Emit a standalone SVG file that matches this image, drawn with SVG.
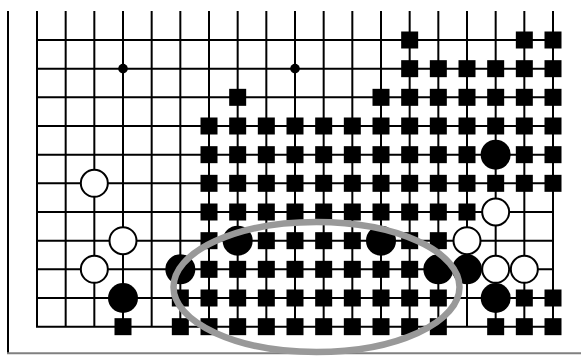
<svg xmlns="http://www.w3.org/2000/svg" xmlns:xlink="http://www.w3.org/1999/xlink" width="581" height="356" viewBox="0 0 581 356">
<style>
.g{stroke:#000;stroke-width:2;fill:none}
.sq{fill:#000}
.w{fill:#fff;stroke:#000;stroke-width:2}
.b{fill:#000}
</style>
<defs>
<rect id="sq" x="-8.5" y="-8.5" width="17" height="17" class="sq"/>
<circle id="ws" r="13.5" class="w"/>
<circle id="bs" r="15" class="b"/>
</defs>
<rect width="581" height="356" fill="#fff"/>
<g id="frame">
<line x1="8" y1="11" x2="8" y2="354" stroke="#000" stroke-width="2"/>
<line x1="7" y1="353.3" x2="581" y2="353.3" stroke="#808080" stroke-width="2"/>
</g>
<g id="grid" class="g">
<path d="M37 11V326.67M65.67 11V326.67M94.33 11V326.67M123 11V326.67M151.67 11V326.67M180.33 11V326.67M209 11V326.67M237.67 11V326.67M266.33 11V326.67M295 11V326.67M323.67 11V326.67M352.33 11V326.67M381 11V326.67M409.67 11V326.67M438.33 11V326.67M467 11V326.67M495.67 11V326.67M524.33 11V326.67M553 11V326.67"/>
<path d="M36 40H554M36 68.67H554M36 97.33H554M36 126H554M36 154.67H554M36 183.33H554M36 212H554M36 240.67H554M36 269.33H554M36 298H554M36 326.67H554"/>
</g>
<g id="stars">
<circle cx="123" cy="68.67" r="4.8"/>
<circle cx="295" cy="68.67" r="4.8"/>
</g>
<g id="squares">
<!-- r0 -->
<use href="#sq" x="409.67" y="40"/><use href="#sq" x="524.33" y="40"/><use href="#sq" x="553" y="40"/>
<!-- r1 -->
<use href="#sq" x="409.67" y="68.67"/><use href="#sq" x="438.33" y="68.67"/><use href="#sq" x="467" y="68.67"/><use href="#sq" x="495.67" y="68.67"/><use href="#sq" x="524.33" y="68.67"/><use href="#sq" x="553" y="68.67"/>
<!-- r2 -->
<use href="#sq" x="237.67" y="97.33"/><use href="#sq" x="381" y="97.33"/><use href="#sq" x="409.67" y="97.33"/><use href="#sq" x="438.33" y="97.33"/><use href="#sq" x="467" y="97.33"/><use href="#sq" x="495.67" y="97.33"/><use href="#sq" x="524.33" y="97.33"/><use href="#sq" x="553" y="97.33"/>
<!-- r3 -->
<use href="#sq" x="209" y="126"/><use href="#sq" x="237.67" y="126"/><use href="#sq" x="266.33" y="126"/><use href="#sq" x="295" y="126"/><use href="#sq" x="323.67" y="126"/><use href="#sq" x="352.33" y="126"/><use href="#sq" x="381" y="126"/><use href="#sq" x="409.67" y="126"/><use href="#sq" x="438.33" y="126"/><use href="#sq" x="467" y="126"/><use href="#sq" x="495.67" y="126"/><use href="#sq" x="524.33" y="126"/><use href="#sq" x="553" y="126"/>
<!-- r4 -->
<use href="#sq" x="209" y="154.67"/><use href="#sq" x="237.67" y="154.67"/><use href="#sq" x="266.33" y="154.67"/><use href="#sq" x="295" y="154.67"/><use href="#sq" x="323.67" y="154.67"/><use href="#sq" x="352.33" y="154.67"/><use href="#sq" x="381" y="154.67"/><use href="#sq" x="409.67" y="154.67"/><use href="#sq" x="438.33" y="154.67"/><use href="#sq" x="467" y="154.67"/><use href="#sq" x="524.33" y="154.67"/><use href="#sq" x="553" y="154.67"/>
<!-- r5 -->
<use href="#sq" x="209" y="183.33"/><use href="#sq" x="237.67" y="183.33"/><use href="#sq" x="266.33" y="183.33"/><use href="#sq" x="295" y="183.33"/><use href="#sq" x="323.67" y="183.33"/><use href="#sq" x="352.33" y="183.33"/><use href="#sq" x="381" y="183.33"/><use href="#sq" x="409.67" y="183.33"/><use href="#sq" x="438.33" y="183.33"/><use href="#sq" x="467" y="183.33"/><use href="#sq" x="495.67" y="183.33"/><use href="#sq" x="524.33" y="183.33"/><use href="#sq" x="553" y="183.33"/>
<!-- r6 -->
<use href="#sq" x="209" y="212"/><use href="#sq" x="237.67" y="212"/><use href="#sq" x="266.33" y="212"/><use href="#sq" x="295" y="212"/><use href="#sq" x="323.67" y="212"/><use href="#sq" x="352.33" y="212"/><use href="#sq" x="381" y="212"/><use href="#sq" x="409.67" y="212"/><use href="#sq" x="438.33" y="212"/><use href="#sq" x="467" y="212"/>
<!-- r7 -->
<use href="#sq" x="209" y="240.67"/><use href="#sq" x="266.33" y="240.67"/><use href="#sq" x="295" y="240.67"/><use href="#sq" x="323.67" y="240.67"/><use href="#sq" x="352.33" y="240.67"/><use href="#sq" x="409.67" y="240.67"/><use href="#sq" x="438.33" y="240.67"/>
<!-- r8 -->
<use href="#sq" x="209" y="269.33"/><use href="#sq" x="237.67" y="269.33"/><use href="#sq" x="266.33" y="269.33"/><use href="#sq" x="295" y="269.33"/><use href="#sq" x="323.67" y="269.33"/><use href="#sq" x="352.33" y="269.33"/><use href="#sq" x="381" y="269.33"/><use href="#sq" x="409.67" y="269.33"/>
<!-- r9 -->
<use href="#sq" x="180.33" y="298"/><use href="#sq" x="209" y="298"/><use href="#sq" x="237.67" y="298"/><use href="#sq" x="266.33" y="298"/><use href="#sq" x="295" y="298"/><use href="#sq" x="323.67" y="298"/><use href="#sq" x="352.33" y="298"/><use href="#sq" x="381" y="298"/><use href="#sq" x="409.67" y="298"/><use href="#sq" x="438.33" y="298"/><use href="#sq" x="524.33" y="298"/><use href="#sq" x="553" y="298"/>
<!-- r10 -->
<use href="#sq" x="123" y="326.67"/><use href="#sq" x="180.33" y="326.67"/><use href="#sq" x="209" y="326.67"/><use href="#sq" x="237.67" y="326.67"/><use href="#sq" x="266.33" y="326.67"/><use href="#sq" x="295" y="326.67"/><use href="#sq" x="323.67" y="326.67"/><use href="#sq" x="352.33" y="326.67"/><use href="#sq" x="381" y="326.67"/><use href="#sq" x="409.67" y="326.67"/><use href="#sq" x="438.33" y="326.67"/><use href="#sq" x="495.67" y="326.67"/><use href="#sq" x="524.33" y="326.67"/><use href="#sq" x="553" y="326.67"/>
</g>
<g id="black-stones">
<use href="#bs" x="495.67" y="154.67"/>
<use href="#bs" x="237.67" y="240.67"/>
<use href="#bs" x="381" y="240.67"/>
<use href="#bs" x="180.33" y="269.33"/>
<use href="#bs" x="438.33" y="269.33"/>
<use href="#bs" x="467" y="269.33"/>
<use href="#bs" x="123" y="298"/>
<use href="#bs" x="495.67" y="298"/>
</g>
<g id="white-stones">
<use href="#ws" x="94.33" y="183.33"/>
<use href="#ws" x="495.67" y="212"/>
<use href="#ws" x="123" y="240.67"/>
<use href="#ws" x="467" y="240.67"/>
<use href="#ws" x="94.33" y="269.33"/>
<use href="#ws" x="495.67" y="269.33"/>
<use href="#ws" x="524.33" y="269.33"/>
</g>
<g id="highlight">
<ellipse cx="316.5" cy="287" rx="143" ry="65" fill="none" stroke="#999" stroke-width="6.5"/>
</g>
</svg>
